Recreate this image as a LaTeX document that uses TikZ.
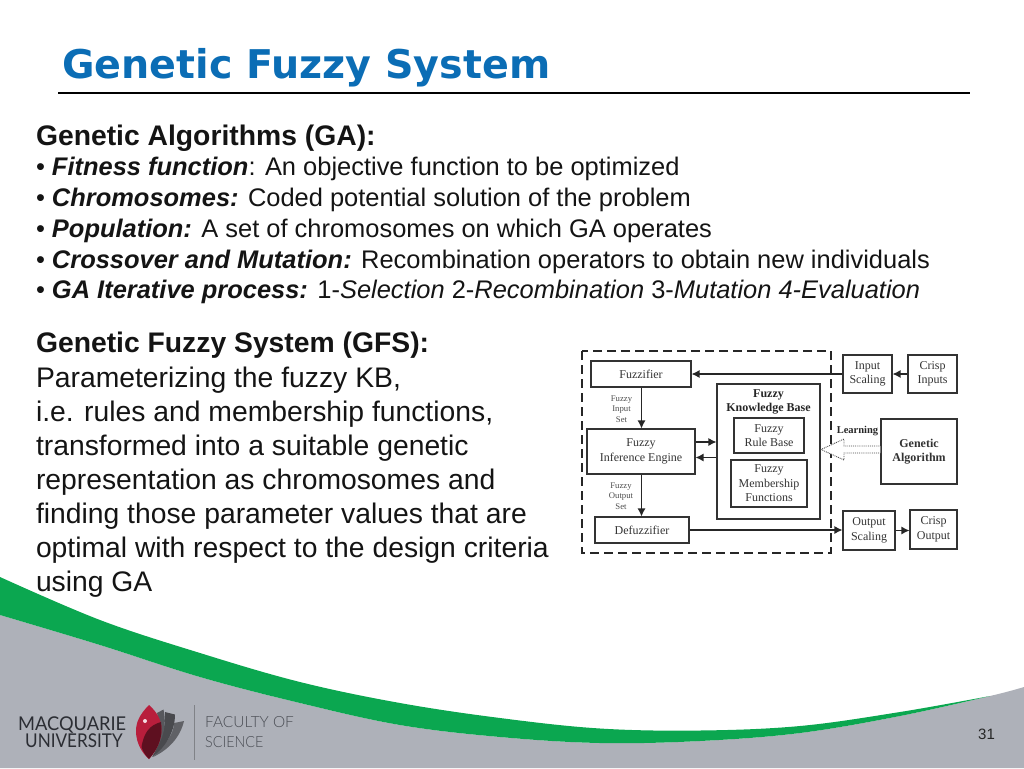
\documentclass[tikz,border=0pt]{standalone}
\usepackage{fontspec}
\setmainfont{Liberation Sans}
\newfontfamily\serifd{Liberation Serif}
\newfontfamily\titlef{DejaVu Sans}
\newfontfamily\logofont{Lato}
\newfontfamily\facfont{Lato Light}
\usetikzlibrary{arrows.meta,calc}
\definecolor{titleblue}{HTML}{0B6DB5}
\definecolor{bandgreen}{HTML}{0BA750}
\definecolor{footgrey}{HTML}{AEB1B9}
\definecolor{logotxt}{HTML}{2B2D33}
\definecolor{factxt}{HTML}{4A4D54}
\definecolor{leafred}{HTML}{B81E3C}
\definecolor{leafdark}{HTML}{5E1020}
\tikzset{
 body/.style={anchor=base west,inner sep=0pt,outer sep=0pt,font=\fontsize{25.45}{25}\selectfont,text=black!92},
 para/.style={anchor=base west,inner sep=0pt,outer sep=0pt,font=\fontsize{28.3}{28}\selectfont,text=black!92},
 dbox/.style={draw=black!80,line width=1.1pt,inner sep=0pt,align=center,font=\serifd\fontsize{12}{14.5}\selectfont,text=black!80},
 arr/.style={draw=black!85,line width=1.2pt,-{Latex[length=8pt,width=8pt]}},
 small/.style={inner sep=0pt,align=center,font=\serifd\fontsize{8.7}{10.5}\selectfont,text=black!70},
 logot/.style={anchor=base west,inner sep=0pt,font=\logofont\fontsize{19}{19}\selectfont,text=logotxt},
 fact/.style={anchor=base west,inner sep=0pt,font=\facfont\fontsize{15.4}{15}\selectfont,text=factxt},
}
\newcommand{\boxat}[6][]{\node[dbox,#1,minimum width=#4 pt-#3 pt,minimum height=#6 pt-#5 pt] (#2) at ({(#3+#4)/2},{(#5+#6)/2})}
\begin{document}
\begin{tikzpicture}[x=1pt,y=-1pt]
\useasboundingbox (0,0) rectangle (1024,768);
% footer
\fill[footgrey] plot[smooth,tension=.6] coordinates {(0,615)(100,645)(200,677)(300,703)(400,725)(500,737)(600,743)(700,741)(800,733)(900,716)(990,696)(1024,687)} -- (1024,768) -- (0,768) -- cycle;
\fill[bandgreen] plot[smooth,tension=.6] coordinates {(0,577)(100,620)(200,653)(300,682)(400,703)(500,718)(600,728.5)(700,730.5)(800,726)(900,712)(990,696)} -- plot[smooth,tension=.6] coordinates {(990,696)(900,716)(800,733)(700,741)(600,743)(500,737)(400,725)(300,703)(200,677)(100,645)(0,615)} -- cycle;
% title
\node[anchor=base west,inner sep=0pt,font=\titlef\bfseries\fontsize{39.6}{39}\selectfont,text=titleblue] (title) at (62,78) {Genetic Fuzzy System};
\coordinate (ruleL) at (58,93);
\coordinate (ruleR) at (970,93);
\draw[line width=2pt,black] (ruleL) -- (ruleR);
% body
\node[para] (t1) at (36,145) {\textbf{Genetic Algorithms (GA):}};
\node[body] (t2) at (36,175) {• \textbf{\textit{Fitness function}}: An objective function to be optimized};
\node[body] (t3) at (36,206) {• \textbf{\textit{Chromosomes:}} Coded potential solution of the problem};
\node[body] (t4) at (36,237) {• \textbf{\textit{Population:}} A set of chromosomes on which GA operates};
\node[body] (t5) at (36,268) {• \textbf{\textit{Crossover and Mutation:}} Recombination operators to obtain new individuals};
\node[body] (t6) at (36,298) {• \textbf{\textit{GA Iterative process:}} 1-\textit{Selection} 2-\textit{Recombination} 3-\textit{Mutation 4-Evaluation}};
\node[para] (g1) at (36,352) {\textbf{Genetic Fuzzy System (GFS):}};
\node[para] (g2) at (36,387) {Parameterizing the fuzzy KB,};
\node[para] (g3) at (36,421) {i.e. rules and membership functions,};
\node[para] (g4) at (36,455) {transformed into a suitable genetic};
\node[para] (g5) at (36,489) {representation as chromosomes and};
\node[para] (g6) at (36,523) {finding those parameter values that are};
\node[para] (g7) at (36,557.5) {optimal with respect to the design criteria};
\node[para] (g8) at (36,591.5) {using GA};
% diagram
\draw[line width=1.2pt,black!85,dash pattern=on 9pt off 5pt] (582,351) rectangle (831,553);
\boxat{fuzz}{591}{691}{361}{387} {Fuzzifier};
\boxat{insc}{843}{892}{355}{393} {Input\\Scaling};
\boxat{crin}{908}{957}{355}{393} {Crisp\\Inputs};
\boxat{fkb}{717}{820}{384}{519} {};
\node[inner sep=0pt,align=center,font=\serifd\bfseries\fontsize{12}{14.5}\selectfont,text=black!85] (fkbl) at (768.5,402) {Fuzzy\\Knowledge Base};
\boxat{frb}{734}{804}{418}{453} {Fuzzy\\Rule Base};
\boxat{fmf}{731}{807}{460}{507} {Fuzzy\\Membership\\Functions};
\boxat{fie}{587}{695}{429}{474} {Fuzzy\\Inference Engine};
\boxat{def}{595}{689}{517}{543} {Defuzzifier};
\boxat[font=\serifd\bfseries\fontsize{12}{14.5}\selectfont]{ga}{881}{957}{419}{484} {Genetic\\Algorithm};
\boxat{outs}{843}{895}{511}{550} {Output\\Scaling};
\boxat{crou}{910}{957}{510}{549} {Crisp\\Output};
\draw[arr] (crin.west) -- (insc.east);
\draw[arr] (insc.west) -- (insc.west -| fuzz.east);
\draw[arr] (641.5,0 |- fuzz.south) -- (641.5,0 |- fie.north);
\draw[arr] (641.5,0 |- fie.south) -- (641.5,0 |- def.north);
\draw[arr] (def.east) -- (def.east -| outs.west);
\draw[arr] (outs.east) -- (outs.east -| crou.west);
\draw[arr] ([yshift=9.5pt]fie.east) -- ([yshift=9.5pt]fie.east -| fkb.west);
\draw[arr] ([yshift=-6pt]fie.east -| fkb.west) -- ([yshift=-6pt]fie.east);
\node[small] (l1) at (621.5,409) {Fuzzy\\Input\\Set};
\node[small] (l2) at (621,496) {Fuzzy\\Output\\Set};
\node[inner sep=0pt,font=\serifd\bfseries\fontsize{10.5}{11}\selectfont,text=black!85] (learn) at (857.5,431) {Learning};
% hollow arrow
\coordinate (ah) at (821,449.5);
\draw[black!70,line width=.9pt,densely dotted,fill=white] (ga.west |- 0,446) -- (844,446) -- (844,439) -- (ah) -- (844,460) -- (844,453) -- (ga.west |- 0,453);
% logo
\node[logot] (mq) at (18,730.5) {\scalebox{.96}[1]{MACQUARIE}};
\node[logot] (un) at (25,747.5) {\scalebox{.9}[1]{UNIVERSITY}};
\node[fact] (fa) at (205,727) {FACULTY OF};
\node[fact] (sc) at (205,747.5) {\scalebox{.93}[1]{SCIENCE}};
\draw[factxt!70,line width=.6pt] (194.5,705) -- (194.5,760);
% leaf
\fill[black!45!footgrey] (184,721) .. controls (180,738) and (168,750) .. (153,757) .. controls (164,745) and (174,735) .. (174,723) -- cycle;
\fill[black!58!footgrey] (175,714.5) .. controls (175,732) and (165,748) .. (152,757) .. controls (160,742) and (166,730) .. (165,712) -- cycle;
\fill[black!50!footgrey] (163.5,709.5) .. controls (168,730) and (160,745) .. (150,757) .. controls (158,742) and (161,725) .. (157,713) -- cycle;
\fill[leafred] (149,705) .. controls (139,715) and (136,723) .. (136,731) .. controls (136,743) and (142,753) .. (149,759) .. controls (157,750) and (161.5,740) .. (161.5,729) .. controls (161.5,720) and (157,712) .. (149,705) -- cycle;
\fill[leafdark] (161,722) .. controls (150,725) and (144,732) .. (141.5,747) .. controls (143,752) and (146,756) .. (149,759) .. controls (157,750) and (161.5,740) .. (161.5,729) -- cycle;
\fill[white!85!leafred] (145,721) circle (2pt);
% page number
\node[anchor=base,inner sep=0pt,font=\fontsize{15}{15}\selectfont,text=black!85] (pg) at (986.5,739) {31};
\end{tikzpicture}
\end{document}
